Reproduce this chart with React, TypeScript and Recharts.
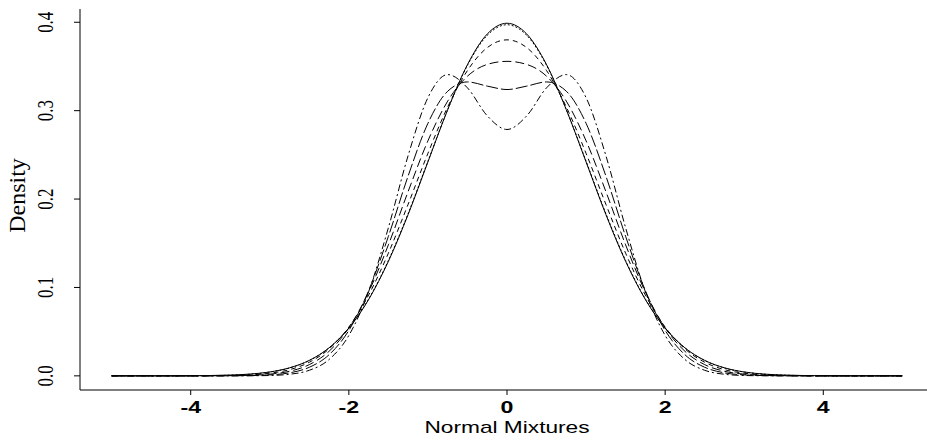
import { LineChart, Line, XAxis, YAxis } from 'recharts'

// grid of x positions, -5 to 5 by 0.25
const xs = [
  -5, -4.75, -4.5, -4.25, -4, -3.75, -3.5, -3.25, -3, -2.75, -2.5, -2.25, -2, -1.75, -1.5, -1.25, -1, -0.75, -0.5, -0.25,
  0,
  0.25, 0.5, 0.75, 1, 1.25, 1.5, 1.75, 2, 2.25, 2.5, 2.75, 3, 3.25, 3.5, 3.75, 4, 4.25, 4.5, 4.75, 5,
]

// densities (solid, dotted, short dash, dash, long dash, dot-dash)
const solid = [
  0, 0, 0, 0, 0.0001, 0.0004, 0.0009, 0.002, 0.0044, 0.0091, 0.0175, 0.0317, 0.054, 0.0863, 0.1295, 0.1826, 0.242, 0.3011, 0.3521, 0.3867,
  0.3989,
  0.3867, 0.3521, 0.3011, 0.242, 0.1826, 0.1295, 0.0863, 0.054, 0.0317, 0.0175, 0.0091, 0.0044, 0.002, 0.0009, 0.0004, 0.0001, 0, 0, 0, 0,
]
const dotted = [
  0, 0, 0, 0, 0.0001, 0.0003, 0.0008, 0.0019, 0.0043, 0.0089, 0.0174, 0.0317, 0.0543, 0.0869, 0.1305, 0.1837, 0.2428, 0.3012, 0.3513, 0.3852,
  0.3972,
  0.3852, 0.3513, 0.3012, 0.2428, 0.1837, 0.1305, 0.0869, 0.0543, 0.0317, 0.0174, 0.0089, 0.0043, 0.0019, 0.0008, 0.0003, 0.0001, 0, 0, 0, 0,
]
const shortDash = [
  0, 0, 0, 0, 0, 0.0001, 0.0004, 0.0011, 0.003, 0.007, 0.0154, 0.0305, 0.0552, 0.0914, 0.1388, 0.1942, 0.2517, 0.3042, 0.3454, 0.3713,
  0.3801,
  0.3713, 0.3454, 0.3042, 0.2517, 0.1942, 0.1388, 0.0914, 0.0552, 0.0305, 0.0154, 0.007, 0.003, 0.0011, 0.0004, 0.0001, 0, 0, 0, 0, 0,
]
const dash = [
  0, 0, 0, 0, 0, 0, 0.0002, 0.0006, 0.0019, 0.0052, 0.0127, 0.0278, 0.0543, 0.0948, 0.1482, 0.2086, 0.2659, 0.3108, 0.339, 0.3523,
  0.3558,
  0.3523, 0.339, 0.3108, 0.2659, 0.2086, 0.1482, 0.0948, 0.0543, 0.0278, 0.0127, 0.0052, 0.0019, 0.0006, 0.0002, 0, 0, 0, 0, 0, 0,
]
const longDash = [
  0, 0, 0, 0, 0, 0, 0.0001, 0.0003, 0.0011, 0.0034, 0.0097, 0.0239, 0.0514, 0.0964, 0.1578, 0.2262, 0.2857, 0.322, 0.3325, 0.3278,
  0.3239,
  0.3278, 0.3325, 0.322, 0.2857, 0.2262, 0.1578, 0.0964, 0.0514, 0.0239, 0.0097, 0.0034, 0.0011, 0.0003, 0.0001, 0, 0, 0, 0, 0, 0,
]
const dotDash = [
  0, 0, 0, 0, 0, 0, 0, 0.0001, 0.0004, 0.0018, 0.0063, 0.0185, 0.0457, 0.0952, 0.1676, 0.2493, 0.3147, 0.3408, 0.3258, 0.2942,
  0.2787,
  0.2942, 0.3258, 0.3408, 0.3147, 0.2493, 0.1676, 0.0952, 0.0457, 0.0185, 0.0063, 0.0018, 0.0004, 0.0001, 0, 0, 0, 0, 0, 0, 0,
]

const xTicks = [-4, -2, 0, 2, 4]
const yTicks = [0, 0.1, 0.2, 0.3, 0.4]

const data = xs.map((x, i) => ({
  x,
  solid: solid[i],
  dotted: dotted[i],
  shortDash: shortDash[i],
  dash: dash[i],
  longDash: longDash[i],
  dotDash: dotDash[i],
}))

const sans = 'Liberation Sans, Arial, sans-serif'
const serif = 'Liberation Serif, Times New Roman, serif'

// the source plot is stretched sideways, so text is widened to match
const XTick = ({ x, y, payload }: any) => (
  <text transform={`translate(${x},${y + 12}) scale(1.45,1)`} textAnchor="middle" fontFamily={sans} fontSize={16} fontWeight="bold" fill="#000">
    {payload.value}
  </text>
)

const YTick = ({ y, payload }: any) => (
  <text transform={`translate(53,${y}) scale(1.35,1) rotate(-90)`} textAnchor="middle" fontFamily={serif} fontSize={17} fill="#000">
    {payload.value.toFixed(1)}
  </text>
)

const lines = [
  { key: 'solid', dash: undefined },
  { key: 'dotted', dash: '2 2' },
  { key: 'shortDash', dash: '5 4' },
  { key: 'dash', dash: '9 4' },
  { key: 'longDash', dash: '12 3' },
  { key: 'dotDash', dash: '7 3 2 3' },
]

export default function App() {
  return (
    <div style={{ position: 'absolute', left: 0, top: 0, width: 927, height: 441, overflow: 'hidden', background: '#fff' }}>
      <LineChart width={934} height={441} data={data} margin={{ top: 9, right: 0, left: 0, bottom: 0 }}>
        <XAxis
          dataKey="x"
          type="number"
          domain={[-5.4, 5.4]}
          ticks={xTicks}
          allowDataOverflow
          height={51}
          tickSize={5}
          tickMargin={6}
          stroke="#000"
          tick={<XTick />}
          label={{
            content: ({ viewBox }: any) => (
              <text transform={`translate(${viewBox.x + viewBox.width / 2},433) scale(1.42,1)`} textAnchor="middle" fontFamily={sans} fontSize={16} fill="#000">
                Normal Mixtures
              </text>
            ),
          }}
        />
        <XAxis xAxisId="top" orientation="top" type="number" dataKey="x" domain={[-5.4, 5.4]} height={0} tick={false} tickLine={false} stroke="#000" />
        <YAxis
          type="number"
          domain={[-0.016, 0.415]}
          ticks={yTicks}
          allowDataOverflow
          width={80}
          tickSize={6}
          stroke="#000"
          tick={<YTick />}
          label={{
            content: ({ viewBox }: any) => (
              <text transform={`translate(25,${viewBox.y + viewBox.height / 2 - 4}) rotate(-90)`} textAnchor="middle" fontFamily={serif} fontSize={24} fill="#000">
                Density
              </text>
            ),
          }}
        />
        {lines.map(l => (
          <Line
            key={l.key}
            type="monotone"
            dataKey={l.key}
            stroke="#000"
            strokeWidth={1}
            strokeDasharray={l.dash}
            dot={false}
            isAnimationActive={false}
          />
        ))}
      </LineChart>
    </div>
  )
}
